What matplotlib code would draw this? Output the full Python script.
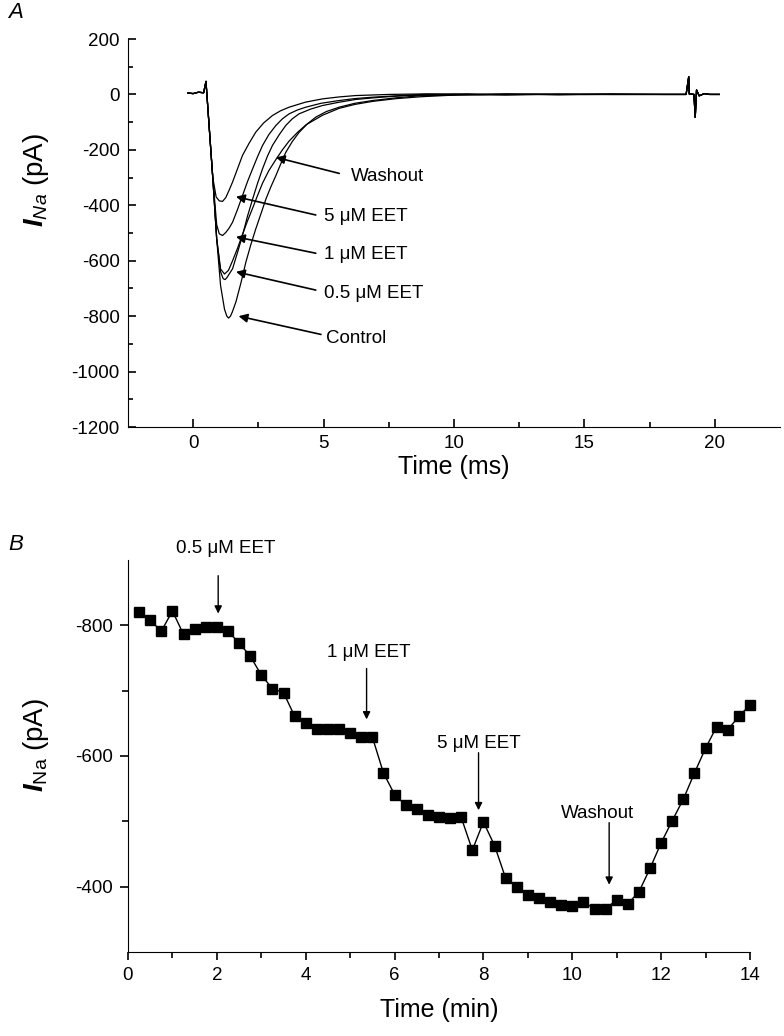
import matplotlib
matplotlib.use("Agg")
import matplotlib.pyplot as plt

plt.rcParams['font.family'] = ['Liberation Sans', 'DejaVu Sans']
plt.rcParams['axes.unicode_minus'] = False
plt.rcParams['mathtext.fontset'] = 'custom'
plt.rcParams['mathtext.rm'] = 'Liberation Sans'
plt.rcParams['mathtext.it'] = 'Liberation Sans:italic'
plt.rcParams['mathtext.bf'] = 'Liberation Sans:italic:bold'

# ---------------- Panel A data (time in ms, current in pA) ----------------
artifact_t = [18.9, 19.0, 19.02, 19.2, 19.25, 19.3, 19.4, 19.6, 19.8, 20.17]
artifact_i = [0, 64, 2, 0, -83, 16, -5, 3, 0, 0]

control_t = [-0.2, 0.0, 0.2, 0.4, 0.49, 0.6, 0.75, 0.9, 1.05, 1.2, 1.29, 1.355, 1.43, 1.5, 1.64,
             1.83, 2.02, 2.21, 2.40, 2.6, 2.79, 2.98, 3.17, 3.36, 3.55, 3.8, 4.06, 4.38, 4.70,
             5.1, 5.6, 6.2, 6.88, 7.8, 8.79, 10.5, 12.0, 14.0, 16.0, 18.0]
control_i = [5, 3, 8, 6, 47, -100, -300, -520, -690, -775, -800, -807, -800, -785, -748,
             -680, -605, -542, -485, -430, -377, -333, -293, -250, -209, -170, -137, -106, -82,
             -62, -46, -32, -22, -12, -4, -2, 2, -1, 2, 0]

eet05_t = [-0.2, 0.0, 0.2, 0.4, 0.49, 0.6, 0.75, 0.9, 1.05, 1.15, 1.227, 1.3, 1.4, 1.51,
           1.7, 1.89, 2.08, 2.28, 2.47, 2.66, 2.85, 3.04, 3.3, 3.55, 3.8, 4.06, 4.5, 4.96,
           5.6, 6.24, 7.2, 8.15, 10.0, 12.0, 14.0, 16.0, 18.0]
eet05_i = [5, 3, 8, 6, 47, -100, -300, -520, -640, -665, -668, -660, -645, -629,
           -570, -509, -440, -377, -320, -268, -222, -184, -145, -112, -88, -70, -53, -40,
           -28, -18, -10, -4, 0, -2, 1, 0, 0]

eet1_t = [-0.2, 0.0, 0.2, 0.4, 0.49, 0.6, 0.75, 0.9, 1.0, 1.125, 1.25, 1.38, 1.51,
          1.7, 1.89, 2.08, 2.28, 2.47, 2.66, 2.9, 3.17, 3.42, 3.68, 4.0, 4.32, 4.9, 5.6,
          6.2, 6.88, 7.8, 8.79, 10.5, 12.0, 14.0, 16.0, 18.0]
eet1_i = [5, 3, 8, 6, 47, -100, -300, -470, -503, -509, -498, -482, -461,
          -415, -365, -315, -268, -224, -184, -145, -112, -88, -70, -56, -46, -32, -22,
          -15, -10, -5, 0, 2, -1, 1, 0, 0]

eet5_t = [-0.2, 0.0, 0.2, 0.4, 0.49, 0.6, 0.75, 0.88, 1.0, 1.125, 1.25, 1.38, 1.51,
          1.7, 1.89, 2.15, 2.40, 2.7, 3.04, 3.35, 3.68, 4.3, 4.96, 5.6, 6.24, 7.52, 9.0,
          11.0, 13.0, 15.0, 18.0]
eet5_i = [5, 3, 8, 6, 47, -100, -300, -370, -384, -386, -372, -345, -316,
          -268, -220, -175, -136, -103, -76, -59, -46, -28, -16, -9, -4, 0, 2,
          -1, 1, 0, 0]

wash_t = [-0.2, 0.0, 0.2, 0.4, 0.49, 0.6, 0.75, 0.9, 1.05, 1.2, 1.35, 1.51,
          1.7, 1.89, 2.08, 2.28, 2.47, 2.66, 2.9, 3.17, 3.42, 3.68, 4.0, 4.32, 4.96, 5.6,
          6.2, 6.88, 7.8, 8.79, 10.5, 12.0, 14.0, 16.0, 18.0]
wash_i = [5, 3, 8, 6, 47, -100, -300, -520, -630, -648, -635, -600,
          -555, -505, -457, -410, -364, -320, -275, -235, -200, -168, -137, -110, -75, -50,
          -36, -25, -15, -8, 0, 1, -1, 0, 0]

a_labels = ["Washout", "5 \u03bcM EET", "1 \u03bcM EET", "0.5 \u03bcM EET", "Control"]
a_tips = [(3.17, -227), (1.64, -369), (1.64, -514), (1.64, -640), (1.74, -800)]
a_tails = [(5.6, -285), (4.70, -435), (4.70, -573), (4.70, -706), (4.9, -866)]
a_text = [(6.04, -296), (5.02, -441), (5.02, -576), (5.02, -719), (5.09, -880)]

# ---------------- Panel B data (time in min, current in pA) ----------------
b_time = [0.25, 0.5, 0.75, 1.0, 1.25, 1.5, 1.75, 2.0, 2.25, 2.5, 2.75, 3.0, 3.25, 3.5,
          3.75, 4.0, 4.25, 4.5, 4.75, 5.0, 5.25, 5.5, 5.75, 6.0, 6.25, 6.5, 6.75, 7.0,
          7.25, 7.5, 7.75, 8.0, 8.25, 8.5, 8.75, 9.0, 9.25, 9.5, 9.75, 10.0, 10.25, 10.5,
          10.75, 11.0, 11.25, 11.5, 11.75, 12.0, 12.25, 12.5, 12.75, 13.0, 13.25, 13.5,
          13.75, 14.0]
b_current = [-820, -808, -791, -822, -786, -795, -797, -797, -791, -773, -753, -724, -703, -697,
             -661, -650, -642, -642, -641, -635, -629, -629, -574, -541, -525, -519, -510, -506,
             -505, -506, -456, -499, -463, -413, -400, -387, -382, -376, -372, -371, -377, -366,
             -366, -380, -374, -392, -428, -467, -501, -534, -574, -612, -645, -640,
             -661, -678]

b_labels = ["0.5 \u03bcM EET", "1 \u03bcM EET", "5 \u03bcM EET", "Washout"]
b_arrow_x = [2.03, 5.37, 7.89, 10.83]
b_arrow_from = [-876, -734, -605, -498]
b_arrow_to = [-818, -656, -517, -403]
b_text = [(2.2, -918), (5.43, -759), (7.89, -619), (10.57, -512)]

# ---------------- Figure ----------------
fig = plt.figure(figsize=(7.84, 10.36), dpi=100)

axA = fig.add_axes([128/784, 1-427/1036, 652/784, 388/1036])
for t, i in [(control_t, control_i), (eet05_t, eet05_i), (eet1_t, eet1_i),
             (eet5_t, eet5_i), (wash_t, wash_i)]:
    axA.plot(t + artifact_t, i + artifact_i, color='black', lw=0.9)

axA.set_xlim(-2.5, 22.5)
axA.set_ylim(-1200, 200)
axA.set_xticks([0, 5, 10, 15, 20])
axA.set_xticks([2.5, 7.5, 12.5, 17.5], minor=True)
axA.set_yticks(range(-1200, 201, 200))
axA.set_yticks(range(-1100, 201, 200), minor=True)
axA.spines['top'].set_visible(False)
axA.spines['right'].set_visible(False)
axA.tick_params(which='both', direction='in', labelsize=13.5, width=1.2, pad=6)
axA.tick_params(which='major', length=6)
axA.tick_params(which='minor', length=3.5)
axA.set_xlabel('Time (ms)', fontsize=18, labelpad=2)
axA.set_ylabel(r'$\mathbf{I}_{\mathit{Na}}$ (pA)', fontsize=20)
axA.yaxis.set_label_coords(-0.118, 0.637)
for lab, tip, tail, txt in zip(a_labels, a_tips, a_tails, a_text):
    axA.annotate('', xy=tip, xytext=tail,
                 arrowprops=dict(arrowstyle='-|>', color='black', lw=1.2,
                                 mutation_scale=13, shrinkA=0, shrinkB=0))
    axA.text(txt[0], txt[1], lab, fontsize=13.5, ha='left', va='center')
fig.text(8/784, 1-12/1036, 'A', fontsize=16, style='italic', va='center')

axB = fig.add_axes([128/784, 1-952/1036, 622/784, 392/1036])
axB.plot(b_time, b_current, color='black', lw=1.0, marker='s', markersize=7,
         markerfacecolor='black', markeredgecolor='black', clip_on=False)
axB.set_xlim(0, 14)
axB.set_ylim(-300, -900)
axB.set_xticks(range(0, 15, 2))
axB.set_xticks(range(1, 14, 2), minor=True)
axB.set_yticks([-800, -600, -400])
axB.set_yticks([-700, -500], minor=True)
axB.spines['top'].set_visible(False)
axB.spines['right'].set_visible(False)
axB.tick_params(which='both', direction='out', labelsize=13.5, width=1.2, pad=5)
axB.tick_params(which='major', length=6)
axB.tick_params(which='minor', length=4)
axB.set_xlabel('Time (min)', fontsize=18, labelpad=10)
axB.set_ylabel(r'$\mathbf{I}_{\mathrm{Na}}$ (pA)', fontsize=20)
axB.yaxis.set_label_coords(-0.124, 0.528)
for lab, x, y0, y1, txt in zip(b_labels, b_arrow_x, b_arrow_from, b_arrow_to, b_text):
    axB.annotate('', xy=(x, y1), xytext=(x, y0),
                 arrowprops=dict(arrowstyle='-|>', color='black', lw=1.0,
                                 mutation_scale=11, shrinkA=0, shrinkB=0))
    axB.text(txt[0], txt[1], lab, fontsize=13.5, ha='center', va='center', clip_on=False)
fig.text(8/784, 1-545/1036, 'B', fontsize=16, style='italic', va='center')

fig.savefig('out.png', dpi=100)
